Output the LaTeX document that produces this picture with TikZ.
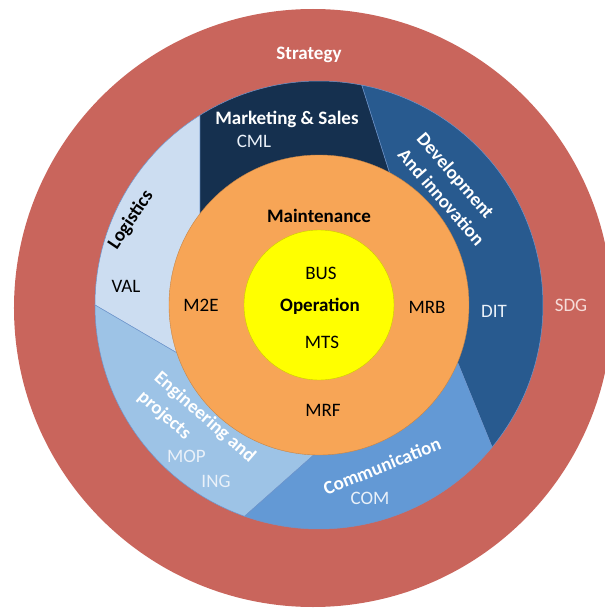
\documentclass[tikz,border=0pt]{standalone}
\usepackage{fontspec}
\setmainfont{Carlito}
\definecolor{strat}{RGB}{201,101,92}
\definecolor{mkt}{RGB}{21,48,79}
\definecolor{dev}{RGB}{40,90,143}
\definecolor{com}{RGB}{99,153,213}
\definecolor{eng}{RGB}{157,195,230}
\definecolor{logi}{RGB}{204,221,241}
\definecolor{maint}{RGB}{247,165,86}
\definecolor{oper}{RGB}{255,255,0}
\definecolor{edge}{RGB}{110,150,205}
\definecolor{sdgtext}{RGB}{246,220,216}
\definecolor{codetext}{RGB}{234,241,249}
\tikzset{
  lbl/.style={font=\fontsize{19}{25}\selectfont, inner sep=0pt},
  title/.style={font=\fontsize{19}{25}\selectfont\bfseries, inner sep=0pt},
  part/.style={draw=edge, line width=0.5pt},
}
\begin{document}
\begin{tikzpicture}[x=1pt,y=1pt]
\useasboundingbox (-319,-306) rectangle (286,305);
\def\outercircle{(-6,-3) circle (299)}
\def\maintcircle{(0,0) circle (150)}
\def\opercircle{(0,0) circle (75)}

\fill[strat] \outercircle;
\filldraw[part, fill=dev] (0,0) -- (-22.5:150) -- (-39.4:224)
	arc[start angle=-39.4, end angle=79, radius=224] -- (62:150) -- cycle;
\filldraw[part, fill=mkt] (0,0) -- (62:150) -- (79:224)
	arc[start angle=79, end angle=122.1, radius=224] -- (142.5:150) -- cycle;
\filldraw[part, fill=logi] (0,0) -- (142.5:150) -- (122.1:224)
	arc[start angle=122.1, end angle=180, radius=224] -- (198.6:150) -- cycle;
\filldraw[part, fill=eng] (0,0) -- (198.6:150) -- (180:224)
	arc[start angle=180, end angle=250.6, radius=224] -- (268:150) -- cycle;
\filldraw[part, fill=com] (0,0) -- (268:150) -- (250.6:224)
	arc[start angle=250.6, end angle=320.6, radius=224] -- (337.5:150) -- cycle;
\filldraw[draw=maint!80!black, line width=0.4pt, fill=maint] \maintcircle;
\filldraw[draw=oper!80!black, line width=0.4pt, fill=oper] \opercircle;

\node[title, white] (strategy) at (-10,250) {Strategy};
\node[lbl, sdgtext] (sdg) at (252,0) {SDG};
\node[title, white] (marketing) at (-32,186) {Marketing \& Sales};
\node[lbl, codetext] (cml) at (-65,164) {CML};
\node[title, white, rotate=-49, align=left] (development) at (132,116) {Development\\And innovation};
\node[lbl, codetext] (dit) at (175,-6) {DIT};
\node[title, black, rotate=56] (logistics) at (-188,85) {Logistics};
\node[lbl, black] (val) at (-193,19) {VAL};
\node[title, white, rotate=-41, align=left] (engineering) at (-122.5,-122) {Engineering and\\projects};
\node[lbl, codetext] (mop) at (-132.5,-151) {MOP};
\node[lbl, codetext] (ing) at (-103,-176.5) {ING};
\node[title, white, rotate=22] (communication) at (63,-161) {Communication};
\node[lbl, codetext] (comcode) at (51,-193) {COM};
\node[title] (maintenance) at (0,89) {Maintenance};
\node[lbl] (m2e) at (-118,0) {M2E};
\node[lbl] (mrb) at (108,-2) {MRB};
\node[lbl] (mrf) at (4,-105) {MRF};
\node[lbl] (bus) at (2,32) {BUS};
\node[title] (operation) at (1,-1) {Operation};
\node[lbl] (mts) at (3,-37) {MTS};
\end{tikzpicture}
\end{document}
